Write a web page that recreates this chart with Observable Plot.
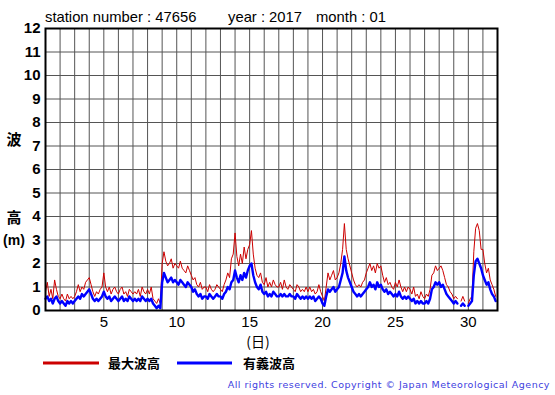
<!DOCTYPE html>
<html>
<head>
<meta charset="utf-8">
<script src="https://cdn.jsdelivr.net/npm/d3@7"></script>
<script src="https://cdn.jsdelivr.net/npm/@observablehq/plot@0.6"></script>
<style>
body{margin:0;background:#fff;}
#chart svg{display:block;}
</style>
</head>
<body>
<div id="chart"></div>
<script>
// 3-hourly values, 8 per day, Jan 1 - Jan 31 2017
const stepsPerDay = 8;
const significantWave = [
  0.5,0.6,0.4,0.5,0.3,0.5,0.6,0.4,
  0.3,0.4,0.3,0.2,0.4,0.3,0.4,0.3,
  0.4,0.5,0.6,0.5,0.7,0.6,0.7,0.8,
  0.9,0.7,0.5,0.4,0.5,0.4,0.5,0.6,
  0.8,0.6,0.5,0.6,0.4,0.5,0.6,0.5,
  0.4,0.5,0.6,0.4,0.5,0.4,0.6,0.5,
  0.4,0.5,0.4,0.5,0.4,0.6,0.5,0.4,
  0.5,0.4,0.5,0.3,0.2,0.1,0.2,0.1,
  1.2,1.6,1.4,1.2,1.3,1.4,1.2,1.3,
  1.2,1.1,1.3,1.2,1.1,1.0,1.2,1.1,
  1.0,0.8,0.9,0.7,0.6,0.7,0.5,0.6,
  0.6,0.5,0.7,0.6,0.5,0.6,0.7,0.6,
  0.6,0.5,0.7,0.8,1.0,0.9,1.2,1.3,
  1.7,1.4,1.2,1.5,1.3,1.6,1.4,1.7,
  1.9,2.0,1.5,1.2,1.0,0.9,1.1,0.8,
  0.7,0.8,0.6,0.7,0.6,0.8,0.7,0.6,
  0.6,0.7,0.6,0.7,0.6,0.6,0.7,0.6,
  0.6,0.5,0.7,0.6,0.5,0.6,0.5,0.6,
  0.5,0.6,0.5,0.6,0.4,0.5,0.6,0.5,
  0.3,0.2,0.6,0.9,0.8,0.9,1.0,0.8,
  0.9,1.0,1.3,1.6,2.3,1.7,1.4,1.2,
  1.0,0.8,0.7,0.6,0.7,0.6,0.7,0.8,
  0.9,1.0,1.2,1.0,1.1,0.9,1.2,1.0,
  1.1,0.9,0.8,0.9,0.7,0.8,0.7,0.6,
  0.7,0.6,0.8,0.6,0.5,0.6,0.5,0.6,
  0.5,0.4,0.5,0.3,0.4,0.3,0.4,0.3,
  0.3,0.4,0.3,0.5,0.9,1.0,1.2,1.1,
  1.2,1.0,1.1,0.9,0.7,0.6,0.5,0.4,
  0.3,0.4,0.3,null,0.2,0.3,0.2,null,
  0.2,0.3,0.4,1.5,2.1,2.2,2.0,1.8,
  1.5,1.3,1.1,1.2,0.9,0.7,0.6,0.4
];
const maximumWave = [
  0.8,1.2,0.6,0.9,0.5,1.3,0.9,0.6,
  0.5,0.7,0.5,0.4,0.7,0.5,0.6,0.5,
  0.6,0.8,1.1,0.8,1.0,0.9,1.2,1.3,
  1.4,1.1,0.8,0.6,0.8,0.7,0.9,1.0,
  1.6,1.0,0.8,1.0,0.7,0.9,1.0,0.8,
  0.7,0.9,1.0,0.7,0.8,0.6,0.9,0.8,
  0.7,0.8,0.7,0.9,0.6,1.0,0.8,0.7,
  0.9,0.7,1.0,0.5,0.4,0.3,0.5,0.3,
  2.0,2.5,2.1,1.9,2.0,2.2,1.8,2.0,
  1.9,1.8,2.1,1.8,1.7,1.6,1.9,1.7,
  1.5,1.3,1.4,1.1,1.0,1.2,0.9,1.0,
  1.0,0.8,1.1,0.9,0.8,0.9,1.1,1.0,
  0.9,0.8,1.1,1.3,1.6,1.4,2.2,2.4,
  3.3,2.3,1.9,2.4,2.0,2.7,2.2,2.6,
  2.8,3.4,2.4,1.8,1.5,1.4,1.6,1.2,
  1.1,1.4,1.0,1.2,1.0,1.3,1.1,1.0,
  1.0,1.2,0.9,1.3,1.0,0.9,1.1,1.0,
  0.9,0.8,1.1,1.0,0.8,0.9,0.8,1.0,
  0.8,1.0,0.8,0.9,0.7,0.8,1.1,0.8,
  0.6,0.4,1.0,1.6,1.3,1.5,1.7,1.3,
  1.4,1.6,2.0,2.6,3.7,2.6,2.2,1.9,
  1.6,1.3,1.1,1.0,1.1,1.0,1.2,1.3,
  1.6,1.8,2.0,1.7,1.9,1.6,2.0,1.8,
  1.9,1.5,1.2,1.4,1.1,1.2,1.0,0.9,
  1.2,1.0,1.3,1.0,0.8,1.0,0.8,1.0,
  0.9,0.7,1.0,0.6,0.7,0.5,0.8,0.6,
  0.5,0.7,0.6,0.9,1.5,1.6,1.9,1.7,
  1.8,1.9,1.7,1.4,1.1,1.0,0.8,0.7,
  0.5,0.6,0.5,null,0.4,0.6,0.4,null,
  0.3,0.5,0.6,2.5,3.5,3.7,3.4,2.6,
  2.6,2.0,1.6,1.8,1.3,1.1,0.9,0.6
];
const xTicks = [5,10,15,20,25,30];
const yTicks = [0,1,2,3,4,5,6,7,8,9,10,11,12];
const dayGrid = d3.range(1, 33);
const titleParts = ["station number : 47656", "year : 2017", "month : 01"];
const legendLabels = ["最大波高", "有義波高"];
const copyrightText = "All rights reserved. Copyright © Japan Meteorological Agency";

const toRows = arr => arr.map((v, i) => ({x: 1 + i / stepsPerDay, y: v}));
const sigRows = toRows(significantWave);
const maxRows = toRows(maximumWave);

const chart = Plot.plot({
  width: 555,
  height: 395,
  marginLeft: 45,
  marginRight: 58,
  marginTop: 28,
  marginBottom: 85,
  style: {fontFamily: "'Liberation Sans', Arial, sans-serif", background: "#fff", overflow: "visible"},
  x: {domain: [1, 32], ticks: xTicks, tickSize: 0, tickPadding: 7, label: null, tickFormat: d => String(d)},
  y: {domain: [0, 12], ticks: yTicks, tickSize: 0, tickPadding: 5, label: null},
  marks: [
    Plot.ruleX(dayGrid, {stroke: "#555", strokeWidth: 1}),
    Plot.ruleY(yTicks, {stroke: "#555", strokeWidth: 1}),
    Plot.line(maxRows, {x: "x", y: "y", stroke: "#cc0000", strokeWidth: 1}),
    Plot.line(sigRows, {x: "x", y: "y", stroke: "#0000ff", strokeWidth: 2.4}),
    Plot.frame({stroke: "#000", strokeWidth: 2}),
    Plot.axisX({ticks: xTicks, tickSize: 0, tickPadding: 6, fontSize: 15, label: null}),
    Plot.axisY({ticks: yTicks, tickSize: 0, tickPadding: 5, fontSize: 15, fontWeight: "bold", label: null})
  ]
});

document.getElementById("chart").appendChild(chart);

const svg = d3.select(chart);
const add = (x, y, txt, attrs = {}) => {
  const t = svg.append("text").attr("x", x).attr("y", y).text(txt)
    .attr("font-family", "'Liberation Sans', Arial, sans-serif").attr("fill", "#000")
    .attr("text-anchor", "start");
  for (const k in attrs) t.attr(k, attrs[k]);
  return t;
};
add(45, 22, titleParts[0], {"font-size": 14.8});
add(228, 22, titleParts[1], {"font-size": 14.8});
add(316, 22, titleParts[2], {"font-size": 14.8});
add(14, 145, "波", {"font-size": 15, "font-weight": "bold", "text-anchor": "middle", "font-family": "'Noto Sans CJK JP', sans-serif"});
add(14, 223, "高", {"font-size": 15, "font-weight": "bold", "text-anchor": "middle", "font-family": "'Noto Sans CJK JP', sans-serif"});
add(14, 245, "(m)", {"font-size": 14, "font-weight": "bold", "text-anchor": "middle"});
add(258, 347, "(日)", {"font-size": 14, "text-anchor": "middle", "font-family": "'Noto Sans CJK JP', sans-serif"});

svg.append("line").attr("x1", 43).attr("x2", 99).attr("y1", 363).attr("y2", 363).attr("stroke", "#cc0000").attr("stroke-width", 3);
add(108, 368, legendLabels[0], {"font-size": 13, "font-weight": "bold", "font-family": "'Noto Sans CJK JP', sans-serif"});
svg.append("line").attr("x1", 177).attr("x2", 232).attr("y1", 363).attr("y2", 363).attr("stroke", "#0000ff").attr("stroke-width", 3);
add(243, 368, legendLabels[1], {"font-size": 13, "font-weight": "bold", "font-family": "'Noto Sans CJK JP', sans-serif"});
add(550, 388, copyrightText, {"font-size": 9.5, "text-anchor": "end", "fill": "#4040e0", "letter-spacing": "0.5px", "font-family": "'DejaVu Sans', sans-serif"});
</script>
</body>
</html>
